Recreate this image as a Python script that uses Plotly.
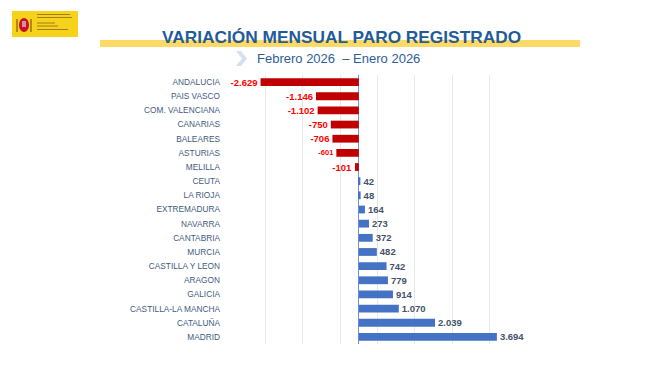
import plotly.graph_objects as go

W, H = 659, 371
OFF = 8  # page body margin of the browser
FW, FH = W - OFF, H - OFF

regiones = ["ANDALUCIA", "PAIS VASCO", "COM. VALENCIANA", "CANARIAS", "BALEARES",
            "ASTURIAS", "MELILLA", "CEUTA", "LA RIOJA", "EXTREMADURA", "NAVARRA",
            "CANTABRIA", "MURCIA", "CASTILLA Y LEON", "ARAGON", "GALICIA",
            "CASTILLA-LA MANCHA", "CATALUÑA", "MADRID"]
variacion = [-2629, -1146, -1102, -750, -706, -601, -101, 42, 48, 164, 273,
             372, 482, 742, 779, 914, 1070, 2039, 3694]
etiquetas = ["-2.629", "-1.146", "-1.102", "-750", "-706", "-601", "-101", "42", "48",
             "164", "273", "372", "482", "742", "779", "914", "1.070", "2.039", "3.694"]

titulo = "VARIACIÓN MENSUAL PARO REGISTRADO"
subtitulo = "Febrero 2026  – Enero 2026"


def px(x):
    return (x - OFF) / FW


def py(y):
    return 1 - (y - OFF) / FH


bar_colors = ["#C00000" if v < 0 else "#4472C4" for v in variacion]
text_colors = ["#FF0000" if v < 0 else "#44546A" for v in variacion]
text_sizes = [7.5 if v == -601 else 9.5 for v in variacion]

fig = go.Figure()
fig.add_trace(go.Bar(
    x=variacion, y=regiones, orientation="h",
    marker=dict(color=bar_colors, line=dict(width=0)),
    width=0.55,
    text=["<b>%s</b>" % t for t in etiquetas],
    textposition="outside",
    constraintext="none",
    textfont=dict(color=text_colors, size=text_sizes, family="Liberation Sans, Arial"),
    cliponaxis=False,
    hoverinfo="skip",
))

shapes = []
# yellow band under the title
shapes.append(dict(type="rect", xref="paper", yref="paper",
                   x0=px(100), x1=px(580), y0=py(47), y1=py(40),
                   fillcolor="#FFD966", line=dict(width=0), layer="below"))
# chevron
cx, cy = 236, 51
path = "M {} {} L {} {} L {} {} L {} {} L {} {} L {} {} Z".format(
    px(cx), py(cy), px(cx + 5), py(cy), px(cx + 11), py(cy + 7.5),
    px(cx + 5), py(cy + 15), px(cx), py(cy + 15), px(cx + 6), py(cy + 7.5))
shapes.append(dict(type="path", xref="paper", yref="paper", path=path,
                   fillcolor="#D6E0EF", line=dict(width=0)))
# logo
shapes.append(dict(type="rect", xref="paper", yref="paper",
                   x0=px(12), x1=px(78), y0=py(37), y1=py(11),
                   fillcolor="#F6D21A", line=dict(width=0)))
shapes.append(dict(type="circle", xref="paper", yref="paper",
                   x0=px(19), x1=px(29), y0=py(32), y1=py(18),
                   fillcolor="#C8102E", line=dict(width=0)))
shapes.append(dict(type="rect", xref="paper", yref="paper",
                   x0=px(22), x1=px(26), y0=py(27), y1=py(21),
                   fillcolor="#D98AA8", line=dict(width=0)))
shapes.append(dict(type="rect", xref="paper", yref="paper",
                   x0=px(16), x1=px(18), y0=py(32), y1=py(19),
                   fillcolor="#B8860B", line=dict(width=0)))
shapes.append(dict(type="rect", xref="paper", yref="paper",
                   x0=px(30), x1=px(32), y0=py(32), y1=py(19),
                   fillcolor="#B8860B", line=dict(width=0)))
for (y0, x1) in [(14.5, 70), (17.5, 72), (23, 55), (26, 58), (29.5, 68)]:
    shapes.append(dict(type="line", xref="paper", yref="paper",
                       x0=px(37), x1=px(x1), y0=py(y0), y1=py(y0),
                       line=dict(color="#8A6A1A", width=0.8)))

annotations = [
    dict(text="<b>%s</b>" % titulo, xref="paper", yref="paper",
         x=px(341), y=py(37), xanchor="center", yanchor="middle", showarrow=False,
         font=dict(size=17.3, color="#1F5C99", family="Liberation Sans, Arial")),
    dict(text=subtitulo, xref="paper", yref="paper",
         x=px(339), y=py(59), xanchor="center", yanchor="middle", showarrow=False,
         font=dict(size=13, color="#2E5E99", family="Liberation Sans, Arial")),
]

fig.update_layout(
    width=FW, height=FH,
    margin=dict(l=0, r=0, t=0, b=0),
    paper_bgcolor="white", plot_bgcolor="white",
    showlegend=False,
    shapes=shapes, annotations=annotations,
    bargap=0.45,
    xaxis=dict(domain=[px(228), px(527)], range=[-3500, 4500],
               tick0=-3500, dtick=1000, showticklabels=False,
               showgrid=True, gridcolor="#E8E8E8", gridwidth=1,
               zeroline=True, zerolinecolor="#6F93D6", zerolinewidth=1,
               fixedrange=True),
    yaxis=dict(domain=[py(344), py(75)], autorange="reversed",
               tickfont=dict(size=8.3, color="#3E5C80", family="Liberation Sans, Arial"),
               ticks="", ticklabelstandoff=7, showgrid=False, zeroline=False,
               showline=False, fixedrange=True),
)

fig.write_html("out.html")
